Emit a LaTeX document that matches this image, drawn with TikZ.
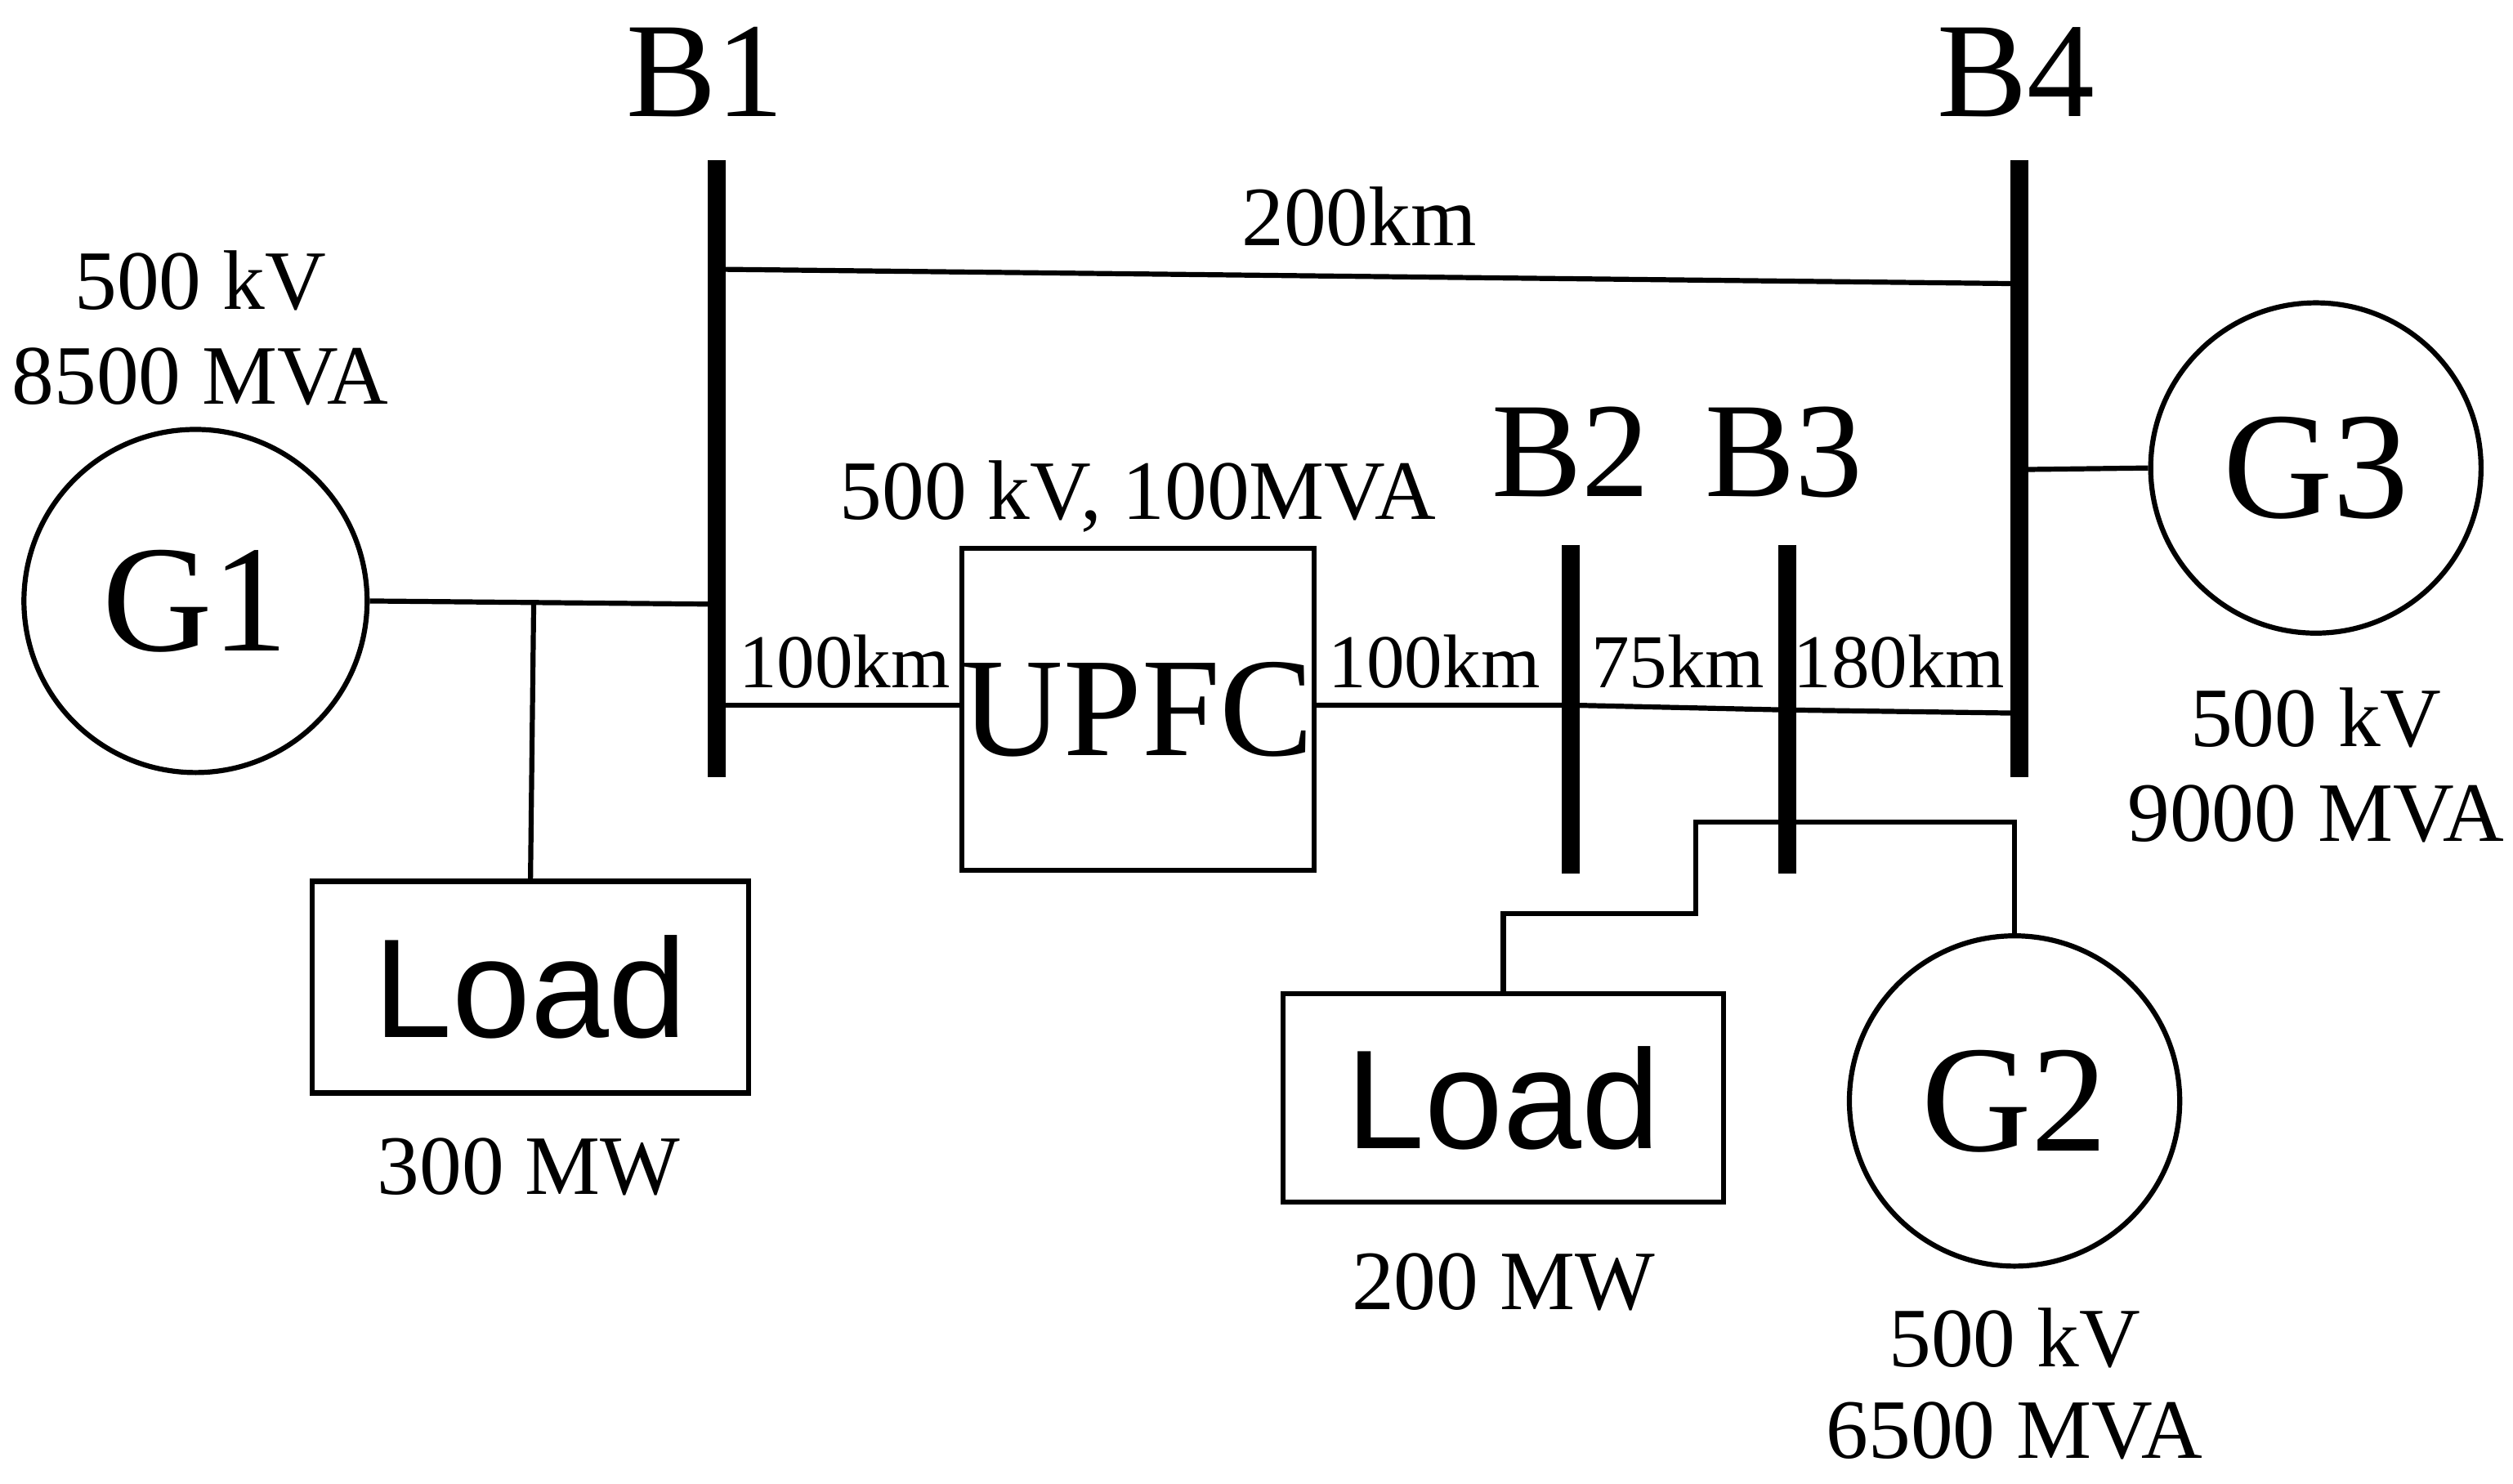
\documentclass[tikz,border=0pt]{standalone}
\usepackage{fontspec}
\setmainfont{Liberation Serif}
\newfontfamily\sansf{Liberation Sans}
\begin{document}
\begin{tikzpicture}[x=0.01cm,y=-0.01cm,
  line/.style={line width=0.9pt},
  bus/.style={line width=3.2pt},
  gen/.style={circle,draw,line width=0.9pt,inner sep=0pt,font=\fontsize{27}{30}\selectfont},
  box/.style={draw,line width=0.9pt,inner sep=0pt},
  lbl/.style={font=\fontsize{15}{17}\selectfont},
  km/.style={font=\fontsize{13.5}{15}\selectfont},
  busl/.style={font=\fontsize{24}{26}\selectfont}]
\useasboundingbox (0,0) rectangle (1568,926);
% buses
\coordinate (b1t) at (447,100); \coordinate (b1b) at (447,485);
\coordinate (b4t) at (1260,100); \coordinate (b4b) at (1260,485);
\coordinate (b2t) at (980,340); \coordinate (b2b) at (980,545);
\coordinate (b3t) at (1115,340); \coordinate (b3b) at (1115,545);
\draw[bus] (b1t)--(b1b); \draw[bus] (b4t)--(b4b);
\draw[bus] (b2t)--(b2b); \draw[bus] (b3t)--(b3b);
\node[busl] (lB1) at (440,45) {B1};
\node[busl] (lB4) at (1258,45) {B4};
\node[busl] (lB2) at (980,282) {B2};
\node[busl] (lB3) at (1113,282) {B3};
% 200km
\coordinate (a1) at (447,168); \coordinate (a4) at (1260,177);
\draw[line] (a1)--(a4);
\node[lbl] (l200) at (848,135) {200km};
% G1
\node[gen,minimum size=2.14cm] (G1) at (122,375) {G1};
\node[lbl] (g1a) at (125,175) {500 kV};
\node[lbl] (g1b) at (125,235) {8500 MVA};
\coordinate (c1) at (447,377); \coordinate (j1) at (333,377);
\draw[line] (G1.east)--(c1);
\node[box,minimum width=2.72cm,minimum height=1.32cm,font=\sansf\fontsize{25}{28}\selectfont] (L1) at (331,616) {Load};
\draw[line] (j1)--(L1.north);
\node[lbl] (l300) at (330,728) {300 MW};
% UPFC
\node[box,minimum width=2.1cm,minimum height=2.01cm,font=\fontsize{25}{28}\selectfont] (U) at (710,442.5) {UPFC};
\node[lbl] (lu) at (710,310) {500 kV, 100MVA};
\coordinate (c2) at (447,440); \coordinate (c3) at (1260,445);
\draw[line] (c2)--(c2-|U.west);
\draw[line] (U.east|-c2)--(980,440)--(1115,443)--(c3);
\node[km] (k1) at (527,413) {100km};
\node[km] (k2) at (895,413) {100km};
\node[km] (k3) at (1047,413) {75km};
\node[km] (k4) at (1185,413) {180km};
% G3
\node[gen,minimum size=2.06cm] (G3) at (1445,292) {G3};
\coordinate (c4) at (1260,293);
\draw[line] (c4)--(G3.west);
\node[lbl] (g3a) at (1445,448) {500 kV};
\node[lbl] (g3b) at (1445,508) {9000 MVA};
% B3 loads
\node[box,minimum width=2.75cm,minimum height=1.3cm,font=\sansf\fontsize{25}{28}\selectfont] (L2) at (938,685) {Load};
\node[lbl] (l200m) at (938,800) {200 MW};
\node[gen,minimum size=2.06cm] (G2) at (1257,687) {G2};
\node[lbl] (g2a) at (1257,835) {500 kV};
\node[lbl] (g2b) at (1257,893) {6500 MVA};
\coordinate (c5) at (1115,513);
\draw[line] (c5)--(1058,513)--(1058,570)--(938,570)--(L2.north);
\draw[line] (c5)--(1257,513)--(G2.north);
\end{tikzpicture}
\end{document}
